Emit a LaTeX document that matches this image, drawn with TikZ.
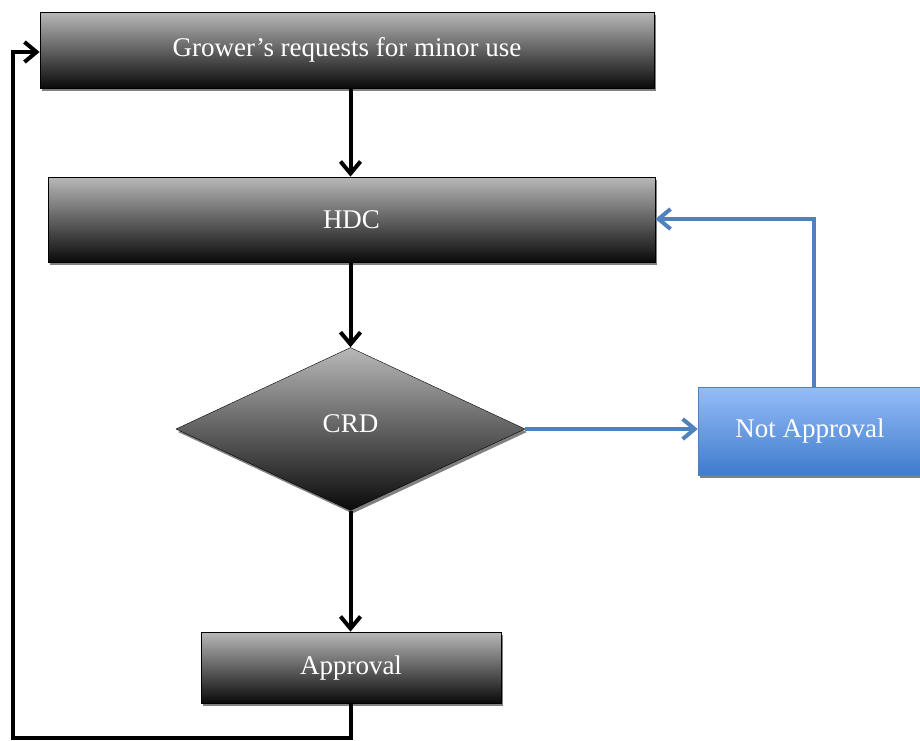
\documentclass[tikz,border=0pt]{standalone}
\usepackage{fontspec}
\setmainfont{Liberation Serif}
\usetikzlibrary{shapes.geometric,shadows,arrows.meta}

\definecolor{boxtop}{RGB}{184,184,184}
\definecolor{boxbot}{RGB}{10,10,10}
\definecolor{bluetop}{RGB}{150,188,248}
\definecolor{bluebot}{RGB}{62,124,204}
\definecolor{blueline}{RGB}{79,129,189}

\begin{document}
\begin{tikzpicture}[x=1pt,y=-1pt]
    \useasboundingbox (0,0) rectangle (920,740);

    \begin{scope}[every node/.style={rectangle, draw=black, thick, top color=boxtop, bottom color=boxbot,
        text=white, font=\fontsize{27}{30}\selectfont, inner sep=0pt,
        drop shadow={shadow xshift=2pt, shadow yshift=-3pt, fill=gray, opacity=1}}]
        \node[minimum width=614pt, minimum height=76pt] (grower) at (347,50) {Grower’s requests for minor use};
        \node[minimum width=607pt, minimum height=85pt] (hdc) at (351.5,219.5) {HDC};
        \node[diamond, thin, aspect=2.14, minimum width=349pt, minimum height=163pt] (crd) at (350.5,429) {\raisebox{10pt}{CRD}};
        \node[minimum width=300pt, minimum height=71pt] (approval) at (351,667.5) {Approval};
    \end{scope}

    \begin{scope}[every node/.style={rectangle, draw=blueline, top color=bluetop, bottom color=bluebot,
        text=white, font=\fontsize{27}{30}\selectfont, inner sep=0pt,
        drop shadow={shadow xshift=2pt, shadow yshift=-3pt, fill=gray, opacity=1}}]
        \node[minimum width=224pt, minimum height=88pt] (notapp) at (810,431) {Not Approval};
    \end{scope}

    \begin{scope}[every edge/.style={draw, line width=4pt, -{Straight Barb[length=12pt, width=20pt, line width=4pt]}}]
        \path (grower.south -| crd) edge (hdc.north -| crd);
        \path (hdc.south -| crd) edge (crd.north);
        \path (crd.south) edge (approval.north -| crd);
    \end{scope}

    \coordinate (loopa) at (351,738);
    \coordinate (loopb) at (13,738);
    \coordinate (loopc) at (13,52);
    \draw[line width=4pt, -{Straight Barb[length=12pt, width=20pt, line width=4pt]}]
        (approval.south) -- (loopa) -- (loopb) -- (loopc) -- (grower.west |- loopc);

    \coordinate (backa) at (814,219);
    \draw[blueline, line width=4pt, -{Straight Barb[length=12pt, width=20pt, line width=4pt]}]
        (crd.east) -- (notapp.west |- crd.east);
    \draw[blueline, line width=4pt, -{Straight Barb[length=12pt, width=20pt, line width=4pt]}]
        (notapp.north -| backa) -- (backa) -- (hdc.east |- backa);
\end{tikzpicture}
\end{document}
